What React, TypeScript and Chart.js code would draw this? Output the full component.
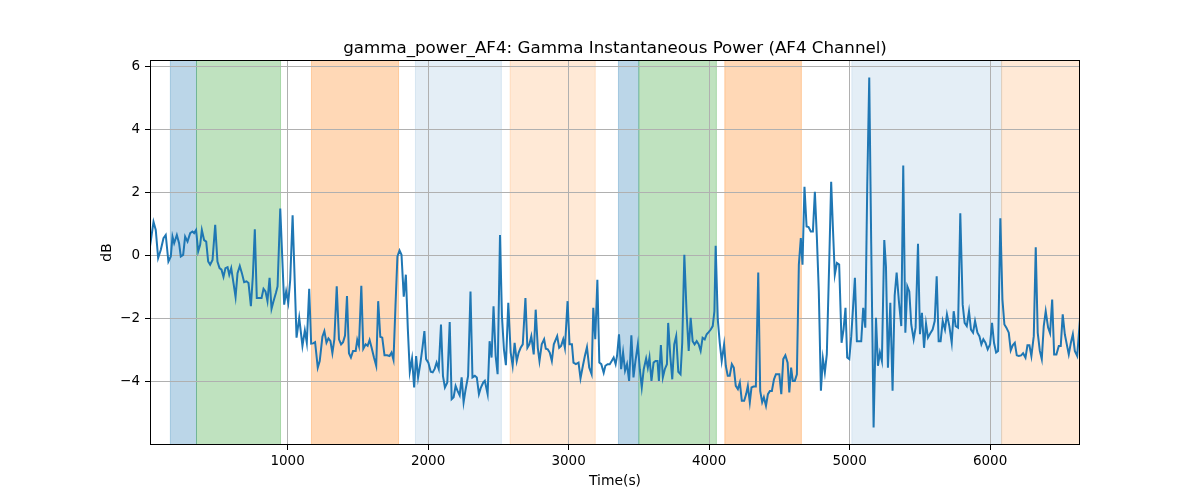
import React, { useEffect, useRef } from "react";
import Chart from "chart.js/auto";

// time stamps (s) and gamma power (dB)
const times = [
  21, 46, 62, 79, 98, 117, 133, 152, 169, 181,
  193, 212, 228, 240, 257, 271, 288, 307, 323, 335,
  349, 364, 378, 390, 406, 421, 435, 449, 466, 485,
  501, 516, 530, 544, 558, 573, 585, 599, 615, 630,
  644, 660, 675, 691, 708, 722, 739, 753, 767, 781,
  798, 815, 829, 843, 857, 872, 886, 900, 917, 929,
  948, 976, 990, 1005, 1019, 1036, 1064, 1083, 1106, 1123,
  1137, 1154, 1168, 1182, 1196, 1215, 1229, 1248, 1262, 1277,
  1291, 1305, 1319, 1333, 1350, 1366, 1381, 1395, 1409, 1423,
  1437, 1451, 1466, 1485, 1496, 1508, 1525, 1539, 1556, 1570,
  1584, 1598, 1615, 1631, 1645, 1660, 1674, 1690, 1709, 1726,
  1740, 1754, 1768, 1782, 1797, 1811, 1827, 1842, 1856, 1870,
  1886, 1901, 1915, 1929, 1946, 1960, 1974, 1986, 2002, 2019,
  2033, 2047, 2061, 2076, 2092, 2106, 2120, 2137, 2154, 2168,
  2182, 2196, 2210, 2225, 2239, 2253, 2267, 2285, 2302, 2316,
  2333, 2347, 2362, 2376, 2393, 2404, 2424, 2438, 2452, 2466,
  2481, 2495, 2512, 2526, 2540, 2554, 2571, 2588, 2602, 2616,
  2631, 2645, 2659, 2674, 2693, 2707, 2721, 2735, 2752, 2766,
  2781, 2793, 2809, 2826, 2838, 2852, 2866, 2881, 2895, 2919,
  2933, 2947, 2962, 2974, 2993, 3007, 3024, 3035, 3052, 3071,
  3085, 3102, 3116, 3131, 3147, 3164, 3176, 3190, 3205, 3219,
  3233, 3250, 3262, 3278, 3293, 3307, 3321, 3335, 3345, 3359,
  3374, 3388, 3402, 3416, 3431, 3447, 3462, 3476, 3493, 3507,
  3521, 3535, 3552, 3564, 3576, 3590, 3605, 3619, 3633, 3643,
  3657, 3671, 3685, 3700, 3709, 3724, 3738, 3752, 3766, 3781,
  3797, 3809, 3824, 3840, 3855, 3869, 3883, 3897, 3912, 3926,
  3940, 3954, 3969, 3983, 3997, 4012, 4026, 4038, 4047, 4062,
  4076, 4090, 4107, 4119, 4133, 4147, 4162, 4176, 4190, 4205,
  4219, 4233, 4250, 4264, 4276, 4290, 4302, 4316, 4333, 4350,
  4364, 4378, 4390, 4405, 4419, 4433, 4447, 4462, 4476, 4500,
  4514, 4528, 4543, 4559, 4571, 4584, 4596, 4610, 4625, 4639,
  4653, 4665, 4679, 4694, 4708, 4724, 4739, 4753, 4767, 4781,
  4796, 4810, 4824, 4838, 4855, 4869, 4881, 4895, 4910, 4926,
  4943, 4957, 4971, 4983, 4998, 5012, 5026, 5038, 5052, 5069,
  5083, 5097, 5112, 5126, 5140, 5154, 5171, 5188, 5202, 5216,
  5230, 5247, 5259, 5273, 5290, 5306, 5321, 5335, 5351, 5368,
  5382, 5397, 5411, 5425, 5439, 5456, 5470, 5487, 5501, 5515,
  5530, 5544, 5558, 5575, 5591, 5606, 5620, 5634, 5648, 5663,
  5679, 5693, 5710, 5727, 5741, 5755, 5772, 5788, 5805, 5819,
  5834, 5850, 5864, 5879, 5893, 5910, 5924, 5938, 5952, 5967,
  5983, 6000, 6014, 6028, 6043, 6057, 6073, 6088, 6102, 6116,
  6133, 6147, 6161, 6176, 6190, 6204, 6221, 6235, 6252, 6266,
  6280, 6294, 6311, 6325, 6339, 6354, 6368, 6382, 6396, 6413,
  6427, 6442, 6456, 6472, 6489, 6503, 6517, 6532, 6546, 6560,
  6575, 6589, 6603, 6620, 6640,
];

const gammaDb = [
  0.30, 1.08, 0.82, -0.07, 0.19, 0.56, 0.66, -0.18, -0.02, 0.61,
  0.40, 0.66, 0.40, -0.02, 0.03, 0.61, 0.45, 0.72, 0.77, 0.72,
  0.82, 0.14, 0.35, 0.82, 0.50, 0.45, -0.18, -0.28, -0.13, 0.98,
  -0.18, -0.39, -0.44, -0.67, -0.39, -0.36, -0.60, -0.39, -0.86, -1.31,
  -0.55, -0.32, -0.55, -0.84, -0.81, -0.86, -1.60, -0.65, 0.84, -1.34,
  -1.34, -1.34, -1.05, -1.13, -1.44, -0.70, -1.68, -1.44, -1.18, -0.97,
  1.50, -1.55, -1.13, -1.49, -0.76, 1.29, -2.60, -1.97, -2.86, -2.37,
  -2.76, -1.05, -2.79, -2.78, -2.74, -3.55, -3.34, -2.57, -2.39, -2.76,
  -2.62, -2.70, -3.09, -2.65, -0.97, -2.65, -2.81, -2.74, -2.53, -1.28,
  -3.09, -3.23, -3.02, -3.02, -2.67, -2.86, -0.95, -2.95, -2.81, -2.86,
  -2.67, -2.91, -3.23, -3.49, -1.44, -2.57, -2.60, -3.16, -3.16, -3.18,
  -3.07, -3.30, -1.60, -0.02, 0.17, 0.03, -1.30, -0.60, -2.32, -3.68,
  -3.26, -4.18, -3.18, -3.86, -3.39, -2.92, -2.39, -3.28, -3.39, -3.68,
  -3.70, -3.59, -3.39, -3.59, -2.18, -3.81, -4.18, -4.02, -2.10, -4.55,
  -4.49, -4.13, -4.29, -4.43, -3.86, -4.65, -4.25, -3.81, -1.13, -3.86,
  -3.81, -3.86, -4.39, -4.18, -4.02, -3.97, -4.39, -2.71, -3.23, -1.60,
  -3.18, -3.76, 0.66, -1.92, -2.97, -3.47, -1.49, -3.07, -3.49, -2.76,
  -3.34, -3.07, -2.92, -2.81, -1.34, -2.92, -2.81, -2.55, -3.13, -1.71,
  -2.92, -3.34, -2.81, -2.65, -2.95, -2.97, -3.07, -3.34, -2.81, -2.55,
  -2.92, -2.86, -2.65, -2.92, -1.44, -2.81, -2.81, -3.39, -3.44, -3.39,
  -3.89, -3.49, -3.18, -2.90, -3.55, -3.76, -1.65, -2.65, -0.76, -3.39,
  -3.44, -3.71, -3.49, -3.44, -3.44, -3.34, -3.23, -3.44, -3.18, -2.49,
  -3.60, -3.07, -3.65, -3.44, -3.97, -2.52, -3.86, -3.34, -2.81, -3.60,
  -4.18, -3.60, -3.26, -3.55, -3.23, -3.97, -3.39, -3.34, -3.34, -3.97,
  -2.83, -3.86, -3.60, -3.44, -2.13, -3.18, -3.92, -2.81, -2.55, -3.68,
  -3.76, -2.76, 0.03, -1.81, -3.02, -1.97, -2.71, -2.81, -2.71, -2.81,
  -3.02, -2.60, -2.65, -2.49, -2.42, -2.34, -2.23, -1.76, 0.32, -2.02,
  -2.76, -3.34, -2.81, -3.49, -3.81, -3.81, -3.44, -3.55, -4.13, -4.23,
  -4.02, -4.60, -4.60, -4.39, -4.13, -4.65, -4.18, -4.15, -4.15, -0.53,
  -4.29, -4.65, -4.49, -4.76, -4.39, -4.29, -4.29, -3.92, -3.76, -3.76,
  -4.39, -3.28, -3.16, -3.39, -4.34, -3.55, -3.97, -3.97, -3.76, -0.28,
  0.56, -0.28, 2.19, 0.93, 0.91, 0.77, 0.77, 2.03, 0.61, -1.13,
  -4.28, -3.26, -3.70, -3.13, -0.23, 2.35, 0.93, -0.60, -0.23, -0.28,
  -2.76, -2.34, -1.65, -3.23, -3.28, -2.55, -1.55, -0.70, -2.71, -2.71,
  -2.71, -1.65, -2.28, 2.29, 5.66, 0.40, -5.45, -1.97, -3.49, -3.07,
  -3.34, 0.50, -0.34, -3.55, -1.49, -4.28, -1.26, -0.53, -1.44, -2.23,
  2.87, -2.44, -0.97, -1.13, -2.18, -2.65, -2.28, 0.38, -2.49, -1.81,
  -2.92, -2.15, -2.60, -2.46, -2.34, -2.07, -0.65, -2.71, -2.71, -2.07,
  -2.34, -1.86, -2.23, -2.76, -1.76, -2.23, -2.28, 1.35, -1.55, -2.13,
  -2.23, -1.76, -2.34, -2.44, -2.07, -2.44, -2.55, -2.81, -2.65, -2.76,
  -2.97, -2.81, -2.13, -2.76, -3.07, -3.02, 1.19, -1.39, -2.18, -2.28,
  -2.44, -3.00, -2.84, -2.76, -3.16, -3.18, -3.16, -3.09, -3.23, -2.84,
  -2.84, -3.18, -2.55, 0.27, -2.44, -3.02, -3.28, -2.23, -1.76, -2.28,
  -2.46, -1.39, -3.13, -3.13, -2.86, -2.86, -1.86, -2.49, -2.81, -3.13,
  -2.76, -2.49, -3.02, -3.18, -2.00,
];

const xTickValues = [1000, 2000, 3000, 4000, 5000, 6000];
const yTickValues = [-4, -2, 0, 2, 4, 6];

// shaded stages (s)
const spanStarts = [166, 352, 1170, 1910, 2584, 3355, 3500, 4112, 5016, 6082];
const spanEnds = [352, 950, 1790, 2522, 3190, 3500, 4052, 4657, 6082, 6700];
const spanKinds = ["blue", "green", "orange", "paleBlue", "paleOrange", "blue", "green", "orange", "paleBlue", "paleOrange"];

const spanColours: Record<string, string> = {
  blue: "rgba(31,119,180,0.3)",
  green: "rgba(44,160,44,0.3)",
  orange: "rgba(255,127,14,0.3)",
  paleBlue: "rgba(31,119,180,0.12)",
  paleOrange: "rgba(255,127,14,0.17)",
};

const chartTitle = "gamma_power_AF4: Gamma Instantaneous Power (AF4 Channel)";
const FONT = "DejaVu Sans";

const spanPlugin = {
  id: "spans",
  beforeDraw(chart: any) {
    const { ctx, chartArea, scales } = chart;
    const xs = scales.x;
    const h = chartArea.bottom - chartArea.top;
    ctx.save();
    ctx.beginPath();
    ctx.rect(chartArea.left, chartArea.top, chartArea.right - chartArea.left, h);
    ctx.clip();
    spanStarts.forEach((s, i) => {
      const x0 = xs.getPixelForValue(s);
      const x1 = xs.getPixelForValue(spanEnds[i]);
      const c = spanColours[spanKinds[i]];
      ctx.fillStyle = c;
      ctx.fillRect(x0, chartArea.top, x1 - x0, h);
      ctx.strokeStyle = c;
      ctx.lineWidth = 1;
      ctx.beginPath();
      ctx.moveTo(x0, chartArea.top);
      ctx.lineTo(x0, chartArea.bottom);
      ctx.moveTo(x1, chartArea.top);
      ctx.lineTo(x1, chartArea.bottom);
      ctx.stroke();
    });
    ctx.restore();
  },
};

// frame round the plot area and the title centred over it
const framePlugin = {
  id: "frame",
  afterDatasetsDraw(chart: any) {
    const { ctx, chartArea } = chart;
    ctx.save();
    ctx.strokeStyle = "#000";
    ctx.lineWidth = 1;
    ctx.strokeRect(
      Math.round(chartArea.left) + 0.5,
      Math.round(chartArea.top) + 0.5,
      Math.round(chartArea.right - chartArea.left) - 1,
      Math.round(chartArea.bottom - chartArea.top) - 1
    );
    ctx.fillStyle = "#000";
    ctx.font = `16.7px "${FONT}"`;
    ctx.textAlign = "center";
    ctx.textBaseline = "alphabetic";
    ctx.fillText(chartTitle, (chartArea.left + chartArea.right) / 2, chartArea.top - 7);
    ctx.restore();
  },
};

export default function App() {
  const canvasRef = useRef<HTMLCanvasElement>(null);
  const chartRef = useRef<Chart | null>(null);

  useEffect(() => {
    if (!canvasRef.current) return;
    if (chartRef.current) chartRef.current.destroy();

    const lo = Math.min(...gammaDb);
    const hi = Math.max(...gammaDb);
    const margin = (hi - lo) * 0.05;

    chartRef.current = new Chart(canvasRef.current, {
      type: "line",
      data: {
        datasets: [
          {
            data: times.map((t, i) => ({ x: t, y: gammaDb[i] })),
            borderColor: "#1f77b4",
            borderWidth: 2,
            pointRadius: 0,
            tension: 0,
            fill: false,
          },
        ],
      },
      options: {
        animation: false,
        responsive: false,
        devicePixelRatio: 1,
        layout: { padding: { left: 90, right: 120, top: 60, bottom: 0 } },
        plugins: {
          legend: { display: false },
          tooltip: { enabled: false },
          title: { display: false },
        },
        scales: {
          x: {
            type: "linear",
            min: times[0],
            max: times[times.length - 1],
            afterBuildTicks: (scale: any) => {
              scale.ticks = xTickValues.map((v) => ({ value: v }));
            },
            afterFit: (scale: any) => {
              scale.height = 55;
            },
            ticks: {
              color: "#000",
              font: { family: FONT, size: 13.5 },
              padding: 3,
              maxRotation: 0,
              autoSkip: false,
              callback: (v: any) => String(v),
            },
            grid: { color: "#b0b0b0", lineWidth: 1, tickColor: "#000", tickLength: 5 },
            border: { display: false },
            title: {
              display: true,
              text: "Time(s)",
              color: "#000",
              font: { family: FONT, size: 13.9 },
              padding: { top: 0, bottom: 10.5 },
            },
          },
          y: {
            type: "linear",
            min: lo - margin,
            max: hi + margin,
            afterBuildTicks: (scale: any) => {
              scale.ticks = yTickValues.map((v) => ({ value: v }));
            },
            afterFit: (scale: any) => {
              scale.width = 60;
            },
            ticks: {
              color: "#000",
              font: { family: FONT, size: 13.5 },
              padding: 5,
              autoSkip: false,
              callback: (v: any) => String(v).replace("-", "\u2212"),
            },
            grid: { color: "#b0b0b0", lineWidth: 1, tickColor: "#000", tickLength: 5 },
            border: { display: false },
            title: {
              display: true,
              text: "dB",
              color: "#000",
              font: { family: FONT, size: 13.9 },
              padding: { top: 9.5, bottom: 0 },
            },
          },
        },
      },
      plugins: [spanPlugin, framePlugin],
    } as any);

    return () => {
      if (chartRef.current) {
        chartRef.current.destroy();
        chartRef.current = null;
      }
    };
  }, []);

  return (
    <div style={{ position: "absolute", left: 0, top: 0, width: 1200, height: 500, background: "#fff" }}>
      <canvas ref={canvasRef} width={1200} height={500}></canvas>
    </div>
  );
}
